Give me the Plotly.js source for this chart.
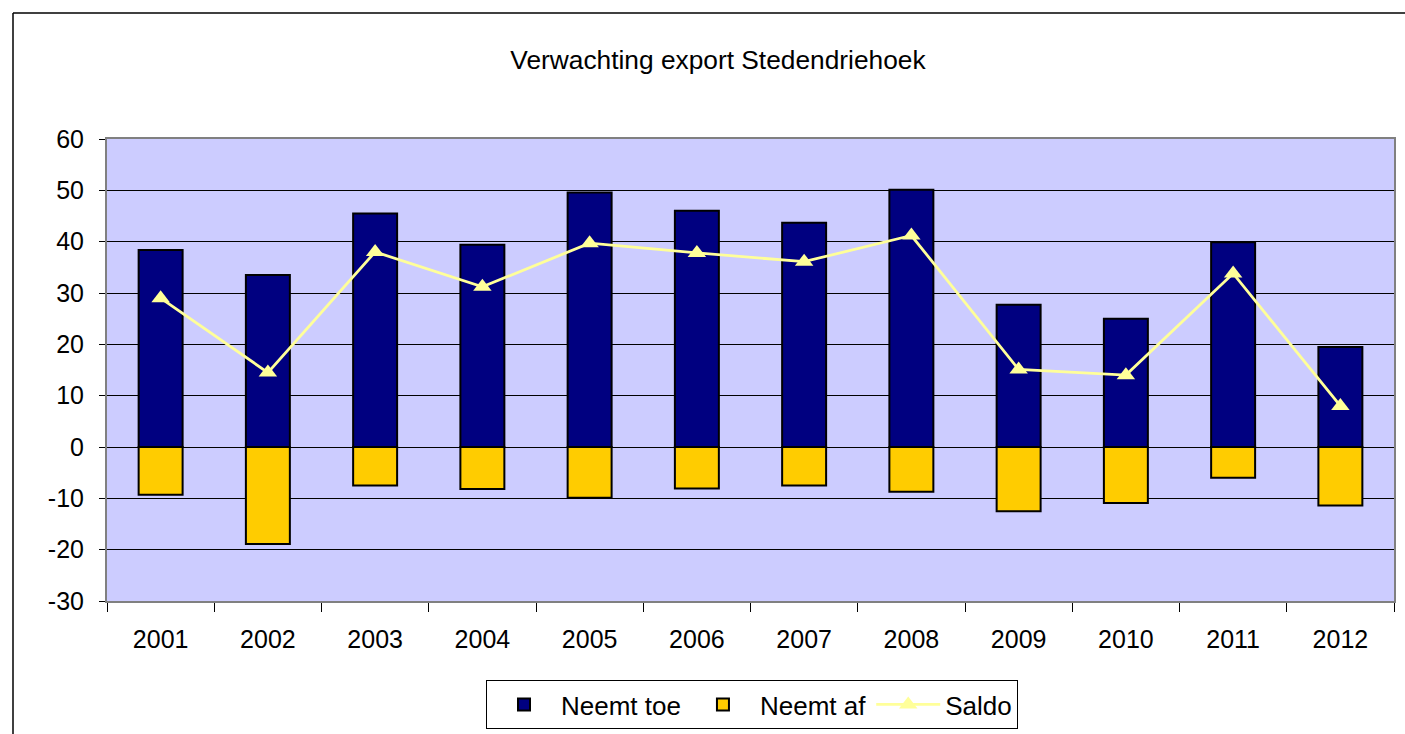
<!DOCTYPE html>
<html>
<head>
<meta charset="utf-8">
<script src="https://cdn.plot.ly/plotly-3.0.1.min.js"></script>
<style>html,body{margin:0;padding:0;background:#fff;}#chart{width:1405px;height:734px;}</style>
</head>
<body>
<div id="chart"></div>
<script>
const years = ['2001','2002','2003','2004','2005','2006','2007','2008','2009','2010','2011','2012'];
const neemtToe = [38.4, 33.5, 45.5, 39.4, 49.6, 46.0, 43.7, 50.1, 27.7, 25.0, 39.9, 19.5];
const neemtAf = [-9.3, -18.9, -7.5, -8.2, -9.9, -8.1, -7.5, -8.7, -12.5, -10.9, -6.0, -11.4];
const saldo = [29.0, 14.5, 38.0, 31.2, 39.7, 37.8, 36.1, 41.2, 15.1, 14.0, 33.8, 8.0];
const yTicks = [-30, -20, -10, 0, 10, 20, 30, 40, 50, 60];

const FONT = 'Liberation Sans, Arial, sans-serif';

const traces = [
  {type:'bar', name:'Neemt toe', x:years, y:neemtToe,
   marker:{color:'#000080', line:{color:'#000000', width:2}}},
  {type:'bar', name:'Neemt af', x:years, y:neemtAf,
   marker:{color:'#FFCC00', line:{color:'#000000', width:2}}},
  {type:'scatter', mode:'lines+markers', name:'Saldo', x:years, y:saldo,
   line:{color:'#FFFF99', width:2.8},
   marker:{symbol:'triangle-up', size:16, color:'#FFFF99'}}
];

// pixel helpers for the outer frame
const L = 107, R = 11, T = 139, B = 133, W = 1405, H = 734;
const pw = W - L - R, ph = H - T - B;
const px = v => (v - L) / pw;
const py = v => (H - B - v) / ph;

const layout = {
  width: W, height: H,
  margin: {l:L, r:R, t:T, b:B, pad:0, autoexpand:false},
  paper_bgcolor:'#FFFFFF',
  plot_bgcolor:'#CCCCFF',
  font:{family:FONT, size:25, color:'#000'},
  title:{text:'Verwachting export Stedendriehoek', font:{family:FONT, size:26.3, color:'#000'},
         x:0.511, xanchor:'center', y:1-60/734, yanchor:'middle'},
  barmode:'relative',
  bargap:0.59,
  showlegend:true,
  legend:{orientation:'h', x:px(752), xanchor:'center', y:py(680), yanchor:'top',
          bordercolor:'#000', borderwidth:1, bgcolor:'#fff',
          font:{family:FONT, size:26, color:'#000'}, traceorder:'normal', itemwidth:64},
  xaxis:{type:'category', range:[-0.5, 11.5], autorange:false, showgrid:false, zeroline:false,
         showline:true, linecolor:'#808080', linewidth:2, mirror:true,
         ticks:'outside', tickson:'boundaries', ticklen:9, tickcolor:'#000', tickwidth:1,
         ticklabelstandoff:15, tickfont:{family:FONT, size:25, color:'#000'}},
  yaxis:{range:[-30,60], autorange:false, tickvals:yTicks, ticktext:yTicks.map(String),
         showgrid:true, gridcolor:'#000', gridwidth:1, zeroline:false,
         showline:true, linecolor:'#808080', linewidth:2, mirror:true,
         ticks:'outside', ticklen:6, tickcolor:'#000', tickwidth:1,
         ticklabelstandoff:10, tickfont:{family:FONT, size:25, color:'#000'}},
  shapes:[
    {type:'line', xref:'paper', yref:'paper', x0:px(13), x1:px(1420), y0:py(13), y1:py(13),
     line:{color:'#000', width:1.5}},
    {type:'line', xref:'paper', yref:'paper', x0:px(13), x1:px(13), y0:py(13), y1:py(760),
     line:{color:'#000', width:1.5}}
  ]
};

Plotly.newPlot('chart', traces, layout, {displayModeBar:false, staticPlot:true});
</script>
</body>
</html>
